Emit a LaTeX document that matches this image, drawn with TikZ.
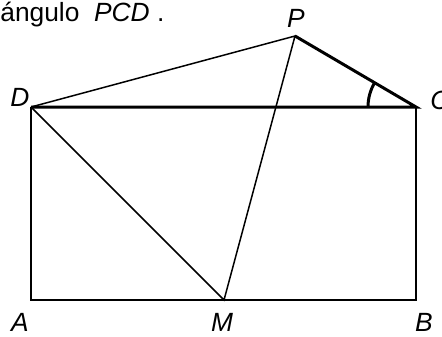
\documentclass[tikz,border=0pt]{standalone}
\usepackage{fontspec}
\setmainfont{Liberation Sans}
\begin{document}
\begin{tikzpicture}[x=0.02cm,y=-0.02cm,
  thin line/.style={line width=0.85pt},
  thick line/.style={line width=1.7pt},
  point label/.style={inner sep=0pt,font=\fontsize{15}{18}\selectfont\itshape}]
\clip (0,0) rectangle (442,336);
\coordinate (A) at (31,300);
\coordinate (B) at (416,300);
\coordinate (C) at (416,107);
\coordinate (D) at (31,107);
\coordinate (M) at (224,300);
\coordinate (P) at (295,36);
\node[anchor=base west,inner sep=0pt,font=\fontsize{15}{18}\selectfont] (title) at (0,21) {ángulo\ \ \textit{PCD}\ .};
\draw[thin line] (D) -- (A) -- (B) -- (C);
\draw[thin line] (D) -- (P) -- (M) -- (D);
\draw[thick line] (D) -- (C) -- (P);
\draw[thick line] (C) ++(180:48) arc[start angle=180,end angle={180+atan(71/121)},radius=48];
\node[point label] (labP) at (296,18) {P};
\node[point label] (labD) at (20,97) {D};
\node[point label,anchor=west] (labC) at (430,100) {C};
\node[point label] (labA) at (20,322) {A};
\node[point label] (labM) at (222,322) {M};
\node[point label] (labB) at (424,322) {B};
\end{tikzpicture}
\end{document}
